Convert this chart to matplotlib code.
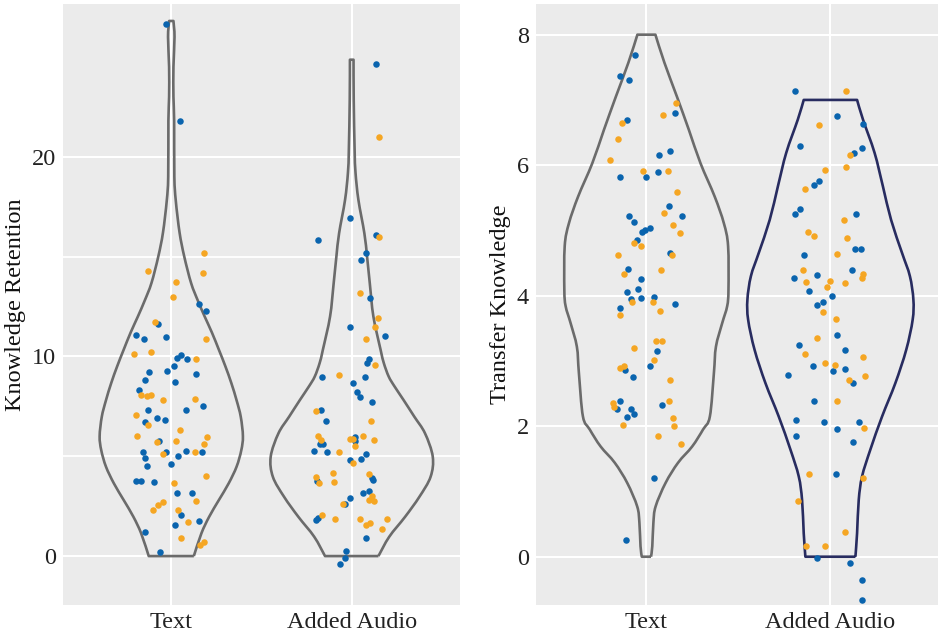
import numpy as np
import matplotlib
matplotlib.use("Agg")
import matplotlib.pyplot as plt
from matplotlib.path import Path
from matplotlib.patches import PathPatch

plt.rcParams['font.family'] = ['Liberation Serif', 'DejaVu Serif']

BLUE = "#0A64AE"
ORANGE = "#F5A623"
GREY = "#6B6B6B"
NAVY = "#282C60"
PANEL = "#EBEBEB"

groups = ["Text", "Added Audio"]

# knowledge retention scores (value, horizontal jitter)
kr_text_blue = [(26.67, -0.03), (21.8, 0.046), (12.62, 0.152), (12.25, 0.19), (11.63, -0.074),
                (11.08, -0.198), (10.89, -0.152), (10.96, -0.03), (9.94, 0.031), (10.08, 0.052),
                (9.89, 0.087), (9.5, 0.013), (9.29, -0.022), (9.24, -0.124), (9.1, 0.137),
                (8.84, -0.144), (8.72, 0.019), (8.3, -0.18), (7.53, 0.178), (7.32, 0.08),
                (7.32, -0.131), (6.93, -0.081), (6.8, -0.035), (6.7, -0.144), (5.76, -0.07),
                (5.21, -0.159), (5.21, -0.028), (5.26, 0.082), (5.21, 0.17), (4.91, -0.146),
                (5.0, 0.039), (4.51, -0.137), (4.6, 0.0), (3.77, -0.193), (3.77, -0.167),
                (3.71, -0.096), (3.16, 0.031), (3.16, 0.117), (2.06, 0.056), (1.75, 0.152),
                (1.55, 0.019), (1.2, -0.143), (0.2, -0.061)]
kr_text_orange = [(15.17, 0.183), (14.29, -0.128), (14.2, 0.176), (13.72, 0.024), (12.98, 0.007),
                  (11.7, -0.09), (10.89, 0.19), (10.14, -0.207), (10.21, -0.113), (9.86, 0.137),
                  (8.05, -0.165), (8.0, -0.133), (8.05, -0.113), (7.82, -0.044), (7.88, 0.13),
                  (7.07, -0.194), (6.57, -0.131), (6.3, 0.048), (6.03, -0.189), (5.95, 0.198),
                  (5.7, -0.08), (5.76, 0.024), (5.63, 0.183), (5.13, -0.046), (5.2, 0.13),
                  (4.03, 0.19), (3.67, 0.013), (2.76, 0.137), (2.69, -0.046), (2.54, -0.076),
                  (2.32, -0.104), (2.32, 0.039), (1.7, 0.094), (0.89, 0.056), (0.57, 0.157),
                  (0.72, 0.183)]
kr_audio_blue = [(24.66, 0.135), (16.93, -0.007), (15.84, -0.185), (16.09, 0.137), (15.2, 0.081),
                 (14.84, 0.05), (12.92, 0.104), (11.49, -0.009), (11.01, 0.185), (9.89, 0.094),
                 (9.66, 0.087), (8.97, -0.165), (8.97, 0.074), (8.66, 0.006), (8.22, 0.031),
                 (7.98, 0.048), (7.72, 0.113), (7.3, -0.172), (6.77, -0.143), (5.6, -0.178),
                 (5.6, -0.159), (5.26, -0.207), (5.21, -0.139), (5.98, 0.017), (5.78, 0.02),
                 (5.13, 0.081), (4.88, 0.05), (4.8, -0.011), (3.77, -0.193), (3.92, 0.111),
                 (3.81, 0.117), (3.16, 0.061), (3.26, 0.096), (2.92, -0.009), (2.59, -0.037),
                 (1.8, -0.196), (1.92, -0.187), (0.89, 0.081), (0.27, -0.033), (-0.1, -0.039),
                 (-0.42, -0.063)]
kr_audio_orange = [(20.97, 0.15), (15.97, 0.152), (13.17, 0.048), (11.93, 0.144), (11.48, 0.131),
                   (10.89, 0.081), (9.59, 0.13), (9.09, -0.07), (7.25, -0.2), (6.75, 0.106),
                   (6.03, -0.187), (5.81, -0.17), (5.21, -0.07), (5.88, -0.011), (5.88, 0.007),
                   (5.51, 0.02), (6.02, 0.061), (5.81, 0.126), (4.68, 0.006), (4.18, -0.102),
                   (3.97, -0.2), (3.67, -0.183), (3.72, -0.096), (4.09, 0.096), (3.01, 0.111),
                   (2.81, 0.096), (2.74, 0.126), (2.61, -0.048), (2.04, -0.165), (1.84, -0.093),
                   (1.84, 0.048), (1.55, 0.081), (1.64, 0.1), (1.87, 0.198), (1.34, 0.165)]

# transfer knowledge scores (value, horizontal jitter)
tk_text_blue = [(7.69, -0.06), (7.37, -0.145), (7.3, -0.094), (6.8, 0.154), (6.7, -0.107),
                (6.22, 0.129), (6.16, 0.067), (5.82, 0.0), (5.9, 0.061), (5.82, -0.145),
                (5.37, 0.123), (5.22, 0.196), (5.22, -0.094), (5.13, -0.065), (4.97, -0.025),
                (5.0, -0.005), (5.04, 0.022), (4.85, -0.049), (4.65, 0.129), (4.41, -0.098),
                (4.25, -0.031), (4.11, -0.045), (4.05, -0.103), (3.95, -0.085), (3.97, -0.027),
                (3.98, 0.04), (3.87, 0.154), (3.81, -0.141), (3.16, 0.06), (2.93, 0.022),
                (2.86, -0.114), (2.76, -0.074), (2.33, 0.087), (2.39, -0.145), (2.26, -0.158),
                (2.27, -0.082), (2.14, -0.103), (2.18, -0.065), (1.2, 0.04), (0.25, -0.112)]
tk_text_orange = [(6.95, 0.161), (6.77, 0.089), (6.65, -0.13), (6.4, -0.156), (6.08, -0.2),
                  (5.91, -0.018), (5.91, 0.116), (5.59, 0.167), (5.27, 0.094), (5.08, 0.143),
                  (4.96, 0.183), (4.81, -0.065), (4.76, -0.031), (4.63, 0.14), (4.62, -0.152),
                  (4.33, -0.123), (4.39, 0.08), (3.9, -0.08), (3.9, 0.034), (3.7, -0.141),
                  (3.77, 0.074), (3.31, 0.053), (3.31, 0.083), (3.2, -0.067), (3.02, 0.04),
                  (2.89, -0.145), (2.93, -0.121), (2.71, 0.129), (2.39, 0.123), (2.36, -0.183),
                  (2.3, -0.176), (2.13, 0.147), (2.01, 0.152), (2.02, -0.125), (1.85, 0.061),
                  (1.73, 0.187)]
tk_audio_blue = [(7.13, -0.19), (6.75, 0.034), (6.63, 0.179), (6.3, -0.163), (6.27, 0.17),
                 (6.18, 0.127), (5.76, -0.062), (5.7, -0.087), (5.33, -0.163), (5.25, -0.19),
                 (5.25, 0.138), (4.72, 0.134), (4.72, 0.165), (4.63, -0.145), (4.4, 0.12),
                 (4.27, -0.197), (4.31, -0.071), (4.07, -0.118), (4.0, 0.007), (3.9, -0.042),
                 (3.85, -0.071), (3.39, 0.036), (3.25, -0.17), (3.17, 0.08), (2.93, -0.096),
                 (2.85, 0.016), (2.88, 0.078), (2.78, -0.228), (2.66, 0.125), (2.39, -0.089),
                 (2.09, -0.188), (2.06, -0.034), (2.06, 0.156), (1.95, 0.034), (1.85, -0.188),
                 (1.76, 0.125), (1.26, 0.031), (-0.02, -0.074), (-0.09, 0.107), (-0.36, 0.17),
                 (-0.66, 0.172)]
tk_audio_orange = [(7.14, 0.083), (6.62, -0.064), (6.16, 0.109), (5.97, 0.083), (5.92, -0.031),
                   (5.64, -0.136), (5.16, 0.076), (4.98, -0.12), (4.91, -0.087), (4.89, 0.092),
                   (4.64, 0.038), (4.39, -0.148), (4.33, 0.178), (4.27, 0.17), (4.21, -0.13),
                   (4.23, 0.0), (4.19, 0.078), (4.14, -0.018), (3.75, -0.038), (3.64, 0.033),
                   (3.35, -0.074), (3.11, -0.138), (3.06, 0.176), (2.97, -0.029), (2.94, 0.023),
                   (2.77, 0.19), (2.71, 0.1), (2.38, 0.038), (1.97, 0.183), (1.27, -0.116),
                   (1.21, 0.176), (0.85, -0.176), (0.38, 0.078), (0.16, -0.134), (0.16, -0.029)]

# violin outlines: level and half width (in group units)
kr_text_lvl = [0.0, 1.14, 1.97, 2.81, 3.64, 4.48, 5.3, 6.0, 6.98, 7.8, 8.66, 9.5, 10.33,
               11.2, 12.0, 12.8, 13.67, 15.0, 16.2, 17.8, 19.0, 21.8, 23.0, 24.5, 26.0, 26.8]
kr_text_half = [0.125, 0.167, 0.21, 0.264, 0.318, 0.362, 0.388, 0.397, 0.385, 0.362, 0.333,
                0.3, 0.264, 0.225, 0.185, 0.147, 0.11, 0.072, 0.046, 0.025, 0.017, 0.016,
                0.012, 0.012, 0.018, 0.012]
kr_audio_lvl = [0.0, 0.97, 1.97, 2.97, 3.97, 4.98, 6.15, 6.98, 7.82, 8.5, 8.99, 9.66, 10.33,
                12.0, 13.67, 15.0, 16.17, 17.84, 19.2, 20.35, 22.86, 24.86]
kr_audio_half = [0.148, 0.208, 0.296, 0.375, 0.437, 0.449, 0.406, 0.347, 0.287, 0.237, 0.205,
                 0.178, 0.16, 0.12, 0.1, 0.085, 0.07, 0.037, 0.021, 0.016, 0.011, 0.01]
tk_text_lvl = [0.0, 0.16, 0.52, 0.77, 1.13, 1.44, 1.69, 1.95, 2.15, 2.82, 3.22, 3.58, 3.84,
               4.09, 4.76, 5.11, 5.52, 6.03, 6.54, 7.05, 7.57, 8.0]
tk_text_half = [0.025, 0.032, 0.038, 0.05, 0.104, 0.172, 0.249, 0.308, 0.345, 0.367, 0.378,
                0.412, 0.439, 0.446, 0.444, 0.421, 0.371, 0.294, 0.231, 0.166, 0.098, 0.049]
tk_audio_lvl = [0.0, 0.36, 0.87, 1.23, 1.64, 2.15, 2.66, 3.17, 3.63, 3.94, 4.3, 4.65, 5.16,
                5.68, 6.19, 6.7, 7.0]
tk_audio_half = [0.136, 0.145, 0.154, 0.172, 0.217, 0.281, 0.353, 0.412, 0.447, 0.451, 0.432,
                 0.39, 0.33, 0.285, 0.24, 0.177, 0.145]


def smooth_side(pts):
    # bezier segments through every outline point (catmull-rom tangents)
    p = np.vstack([pts[0], pts, pts[-1]])
    verts, codes = [], []
    for i in range(1, len(p) - 2):
        c1 = p[i] + (p[i + 1] - p[i - 1]) / 6
        c2 = p[i + 1] - (p[i + 2] - p[i]) / 6
        verts += [c1, c2, p[i + 1]]
        codes += [Path.CURVE4] * 3
    return verts, codes


def violin(ax, pos, lvl, half, color):
    lvl = np.array(lvl)
    half = np.array(half)
    right = np.column_stack([pos + half, lvl])
    left = np.column_stack([pos - half, lvl])[::-1]
    verts = [right[0]]
    codes = [Path.MOVETO]
    v, c = smooth_side(right)
    verts += v
    codes += c
    verts.append(left[0])
    codes.append(Path.LINETO)
    v, c = smooth_side(left)
    verts += v
    codes += c
    verts.append(right[0])
    codes.append(Path.LINETO)
    ax.add_patch(PathPatch(Path(verts, codes), fill=False, edgecolor=color, lw=1.9,
                           joinstyle='round', zorder=3))


def points(ax, pos, pts, color):
    pts = np.array(pts)
    ax.scatter(pos + pts[:, 1], pts[:, 0], s=22, color=color, linewidths=0, zorder=4)


def style(ax, ylabel, major, minor, ylim):
    ax.set_facecolor(PANEL)
    for s in ax.spines.values():
        s.set_visible(False)
    ax.set_xlim(0.4, 2.6)
    ax.set_ylim(*ylim)
    ax.set_xticks([1, 2])
    ax.set_xticklabels(groups)
    ax.set_yticks(major)
    ax.set_yticks(minor, minor=True)
    ax.grid(which='major', color='white', lw=1.5)
    ax.grid(which='minor', axis='y', color='white', lw=1.3)
    ax.set_axisbelow(True)
    ax.tick_params(which='both', length=0, labelsize=17.5, colors='#222222', pad=5)
    ax.set_ylabel(ylabel, fontsize=17.5, color='#111111', labelpad=4)


fig = plt.figure(figsize=(9.38, 6.35), dpi=100)
ax1 = fig.add_axes([63 / 938, 30 / 635, 397 / 938, 601 / 635])
ax2 = fig.add_axes([536 / 938, 30 / 635, 404.8 / 938, 601 / 635])

style(ax1, "Knowledge Retention", [0, 10, 20], [5, 15], (-2.45, 27.65))
style(ax2, "Transfer Knowledge", [0, 2, 4, 6, 8], [], (-0.74, 8.47))

violin(ax1, 1, kr_text_lvl, kr_text_half, GREY)
violin(ax1, 2, kr_audio_lvl, kr_audio_half, GREY)
violin(ax2, 1, tk_text_lvl, tk_text_half, GREY)
violin(ax2, 2, tk_audio_lvl, tk_audio_half, NAVY)

points(ax1, 1, kr_text_blue, BLUE)
points(ax1, 1, kr_text_orange, ORANGE)
points(ax1, 2, kr_audio_blue, BLUE)
points(ax1, 2, kr_audio_orange, ORANGE)
points(ax2, 1, tk_text_blue, BLUE)
points(ax2, 1, tk_text_orange, ORANGE)
points(ax2, 2, tk_audio_blue, BLUE)
points(ax2, 2, tk_audio_orange, ORANGE)

fig.savefig("out.png", dpi=100)
